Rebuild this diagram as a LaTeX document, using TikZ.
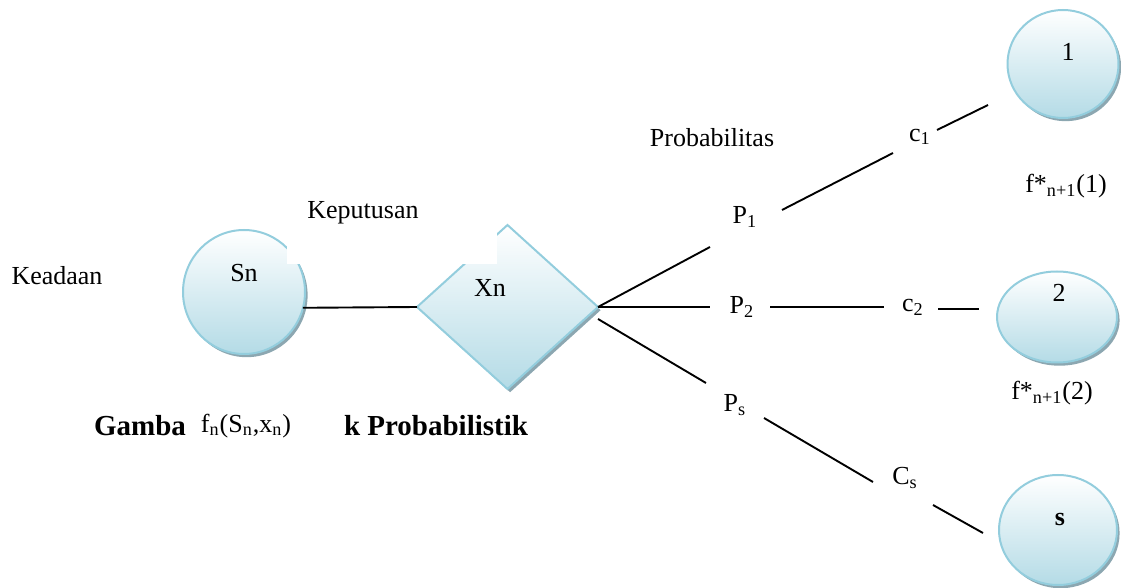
\documentclass[tikz,border=0pt]{standalone}
\usepackage{fontspec}
\setmainfont{Liberation Serif}
\usetikzlibrary{shapes.geometric,shadows}
\definecolor{ringblue}{HTML}{93CDDD}
\definecolor{fillblue}{HTML}{B4DBE6}
\definecolor{shadowblue}{HTML}{8CA7B1}
\tikzset{
  stateshape/.style={draw=ringblue,line width=1pt,top color=white,
    bottom color=fillblue,inner sep=0pt,outer sep=0pt,
    drop shadow={shadow xshift=1.3pt,shadow yshift=-1.6pt,
      fill=shadowblue,opacity=1}},
  lbl/.style={inner sep=0pt},
  boldlbl/.style={inner sep=0pt,font=\fontsize{14.5}{17}\selectfont\bfseries},
  branch/.style={line width=.95pt},
  coverbox/.style={fill=white,inner sep=0pt}
}
\begin{document}
\begin{tikzpicture}[x=.5pt,y=-.5pt,font=\fontsize{13}{15.6}\selectfont]
 \useasboundingbox (0,0) rectangle (1121,588);
 \coordinate (p1in) at (710,247);
 \coordinate (p1out) at (782,210);
 \coordinate (c1in) at (893,153);
 \coordinate (c1out) at (937,130);
 \coordinate (c1end) at (988,105);
 \coordinate (p2in) at (710,307);
 \coordinate (p2out) at (770,307);
 \coordinate (c2in) at (884,307);
 \coordinate (c2out) at (938,309);
 \coordinate (c2end) at (979,309);
 \coordinate (psin) at (706,383);
 \coordinate (psout) at (764,418);
 \coordinate (csin) at (873,482);
 \coordinate (csout) at (933,505);
 \coordinate (csend) at (983,533);

 \node[stateshape,ellipse,minimum width=61pt,minimum height=62pt,
    label={[yshift=9.5pt]center:Sn}] (sn) at (244,292) {};
 \node[stateshape,diamond,minimum width=90.5pt,minimum height=82pt,
    label={[xshift=-8.75pt,yshift=9.5pt]center:Xn}] (xn) at (507.5,307) {};
 \node[stateshape,ellipse,minimum width=55.5pt,minimum height=54pt,
    label={[xshift=2.5pt,yshift=6pt]center:1}] (n1) at (1063,64) {};
 \node[stateshape,ellipse,minimum width=60pt,minimum height=45.5pt,
    label={[xshift=1pt,yshift=12pt]center:2}] (n2) at (1057,317) {};
 \node[stateshape,ellipse,minimum width=59pt,minimum height=55pt,
    label={[xshift=1pt,yshift=5pt]center:\textbf{s}}] (ns) at (1058,530) {};

 \coordinate (xnlow) at ([yshift=-6pt]xn.east);
 \foreach \a/\b in {sn.-15/xn.west,xn.east/p1in,p1out/c1in,c1out/c1end,
    xn.east/p2in,p2out/c2in,c2out/c2end,xnlow/psin,psout/csin,csout/csend}
    \draw[branch] (\a)--(\b);

 \node[coverbox,minimum width=105pt,minimum height=39.5pt,
    label={[xshift=-14.5pt,yshift=5.75pt]center:Keputusan}] (decision)
    at (392,224.5) {};
 \node[lbl] (state) at (57,276) {Keadaan};
 \node[lbl] (prob) at (712,138) {Probabilitas};
 \node[lbl] (p1) at (745,217) {P\textsubscript{1}};
 \node[lbl] (c1) at (920,137) {c\textsubscript{1}};
 \node[lbl] (p2) at (742,307) {P\textsubscript{2}};
 \node[lbl] (c2) at (913,307) {c\textsubscript{2}};
 \node[lbl] (ps) at (735,405) {P\textsubscript{s}};
 \node[lbl] (cs) at (905,478) {C\textsubscript{s}};
 \node[lbl] (f1) at (1066,186) {f*\textsubscript{n+1}(1)};
 \node[lbl] (f2) at (1052,393) {f*\textsubscript{n+1}(2)};
 \node[boldlbl] (capa) at (140,426) {Gamba};
 \node[lbl] (fn) at (246,426)
   {f\textsubscript{n}(S\textsubscript{n},x\textsubscript{n})};
 \node[boldlbl] (capb) at (436,426) {k Probabilistik};
\end{tikzpicture}
\end{document}
